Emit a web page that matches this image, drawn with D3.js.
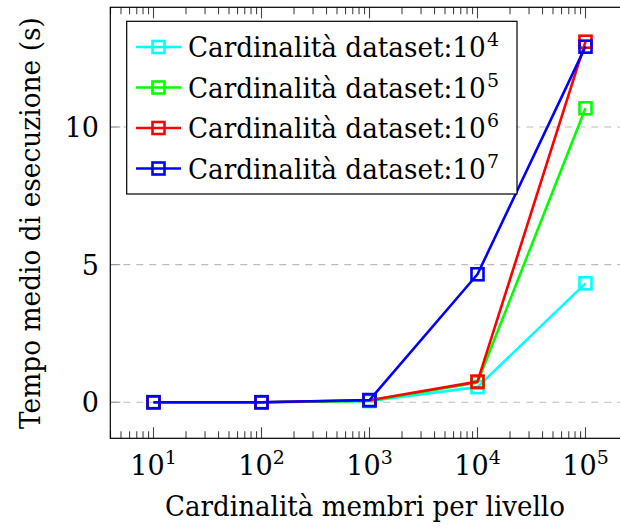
<!DOCTYPE html>
<meta charset="utf-8">
<script src="https://cdn.jsdelivr.net/npm/d3@7"></script>
<style>
  body { margin: 0; background: #fff; }
  svg { display: block; overflow: hidden; }
  svg text { font-family: "DejaVu Serif", serif; }
</style>
<div id="my_dataviz"></div>
<script>

// data
var members = [10, 100, 1000, 10000, 100000];
var exponents = [1, 2, 3, 4, 5];
var yTicks = [0, 5, 10];
var dataset4 = [0, 0, 0.05, 0.55, 4.32];
var dataset5 = [0, 0, 0.05, 0.72, 10.68];
var dataset6 = [0, 0, 0.07, 0.75, 13.1];
var dataset7 = [0, 0, 0.08, 4.65, 12.92];
var seriesNames = ["4", "5", "6", "7"];
var seriesColors = ["#00ffff", "#00ff00", "#ff0000", "#0000ff"];

var series = [dataset4, dataset5, dataset6, dataset7].map(function(vals, i) {
  return {
    sup: seriesNames[i],
    color: seriesColors[i],
    values: vals.map(function(v, j) { return {x: members[j], y: v}; })
  };
});

var W = 620, H = 529;
var plotL = 110.3, plotR = 628.7, plotT = 7.3, plotB = 438.3;

var svg = d3.select("#my_dataviz")
  .append("svg")
    .attr("width", W)
    .attr("height", H);

var x = d3.scaleLog()
  .domain([Math.pow(10, 0.6), Math.pow(10, 5.4)])
  .range([plotL, plotR]);

var y = d3.scaleLinear()
  .domain([-1.31, 14.35])
  .range([plotB, plotT]);

// squeeze a text horizontally so its width matches the wider CM font of the original
function squeeze(g, text, width) {
  var t = g.append("text").text(text);
  var w = t.node().getComputedTextLength();
  t.attr("transform", "scale(" + (width / w) + ",1)");
  return t;
}

// grid
svg.append("g")
  .selectAll("line")
  .data(yTicks)
  .enter()
  .append("line")
    .attr("x1", plotL)
    .attr("x2", W)
    .attr("y1", function(d) { return y(d); })
    .attr("y2", function(d) { return y(d); })
    .attr("stroke", "#bdbdbd")
    .attr("stroke-width", 1.2)
    .attr("stroke-dasharray", "7,6");

// minor + major x ticks (inside, bottom and top)
var minor = [];
for (var e = 0; e <= 5; e++) {
  for (var m = 2; m <= 9; m++) {
    var v = m * Math.pow(10, e);
    if (v >= x.domain()[0] && v <= 100000) minor.push(v);
  }
}
var tickG = svg.append("g").attr("stroke", "#444").attr("stroke-width", 1.1);
[plotB, plotT].forEach(function(edge) {
  var dir = edge === plotB ? -1 : 1;
  tickG.selectAll(null)
    .data(minor)
    .enter()
    .append("line")
      .attr("x1", function(d) { return x(d); })
      .attr("x2", function(d) { return x(d); })
      .attr("y1", edge)
      .attr("y2", edge + dir * 7);
  tickG.selectAll(null)
    .data(members)
    .enter()
    .append("line")
      .attr("x1", function(d) { return x(d); })
      .attr("x2", function(d) { return x(d); })
      .attr("y1", edge)
      .attr("y2", edge + dir * 11);
});

// y ticks on the left
svg.append("g")
  .selectAll("line")
  .data(yTicks)
  .enter()
  .append("line")
    .attr("x1", plotL)
    .attr("x2", plotL + 10)
    .attr("y1", function(d) { return y(d); })
    .attr("y2", function(d) { return y(d); })
    .attr("stroke", "#999")
    .attr("stroke-width", 1.1);

// frame
svg.append("rect")
  .attr("x", plotL)
  .attr("y", plotT)
  .attr("width", plotR - plotL)
  .attr("height", plotB - plotT)
  .attr("fill", "none")
  .attr("stroke", "#000")
  .attr("stroke-width", 1.2);

// x tick labels 10^k
var xl = svg.append("g")
  .selectAll("text")
  .data(members)
  .enter()
  .append("text")
    .attr("x", function(d) { return x(d); })
    .attr("y", 475)
    .attr("text-anchor", "middle")
    .style("font-size", "27px");
xl.append("tspan").text("10");
xl.append("tspan")
  .attr("dy", -11)
  .style("font-size", "19px")
  .text(function(d, i) { return exponents[i]; });

// y tick labels
svg.append("g")
  .selectAll("text")
  .data(yTicks)
  .enter()
  .append("text")
    .attr("x", 99)
    .attr("y", function(d) { return y(d) + 10; })
    .attr("text-anchor", "end")
    .style("font-size", "27px")
    .text(function(d) { return d; });

// axis titles
var xTitle = svg.append("g")
  .attr("transform", "translate(165,516)")
  .style("font-size", "28px");
squeeze(xTitle, "Cardinalità membri per livello", 400);

var yTitle = svg.append("g")
  .attr("transform", "translate(40,429) rotate(-90)")
  .style("font-size", "28px");
squeeze(yTitle, "Tempo medio di esecuzione (s)", 412);

// lines and square marks
var line = d3.line()
  .x(function(d) { return x(d.x); })
  .y(function(d) { return y(d.y); });

var ms = 12;
series.forEach(function(s) {
  var g = svg.append("g");
  g.append("path")
    .datum(s.values)
    .attr("d", line)
    .attr("fill", "none")
    .attr("stroke", s.color)
    .attr("stroke-width", 2.6)
    .attr("stroke-linejoin", "round");
  g.selectAll("rect")
    .data(s.values)
    .enter()
    .append("rect")
      .attr("x", function(d) { return x(d.x) - ms / 2; })
      .attr("y", function(d) { return y(d.y) - ms / 2; })
      .attr("width", ms)
      .attr("height", ms)
      .attr("fill", "none")
      .attr("stroke", s.color)
      .attr("stroke-width", 2.6);
});

// legend
var lg = svg.append("g");
lg.append("rect")
  .attr("x", 126.7)
  .attr("y", 21.3)
  .attr("width", 390.3)
  .attr("height", 172.7)
  .attr("fill", "#fff")
  .attr("stroke", "#000")
  .attr("stroke-width", 1.2);

var rows = lg.selectAll("g.row")
  .data(series)
  .enter()
  .append("g")
    .attr("class", "row")
    .attr("transform", function(d, i) { return "translate(0," + (47 + i * 40.5) + ")"; });
rows.append("line")
  .attr("x1", 136)
  .attr("x2", 181)
  .attr("stroke", function(d) { return d.color; })
  .attr("stroke-width", 2.6);
rows.append("rect")
  .attr("x", 158.5 - ms / 2)
  .attr("y", -ms / 2)
  .attr("width", ms)
  .attr("height", ms)
  .attr("fill", "none")
  .attr("stroke", function(d) { return d.color; })
  .attr("stroke-width", 2.6);
rows.each(function() {
  var g = d3.select(this).append("g")
    .attr("transform", "translate(188,10)")
    .style("font-size", "28px");
  squeeze(g, "Cardinalità dataset:10", 298);
});
rows.append("text")
  .attr("x", 487)
  .attr("y", -1)
  .style("font-size", "19px")
  .text(function(d) { return d.sup; });

</script>
